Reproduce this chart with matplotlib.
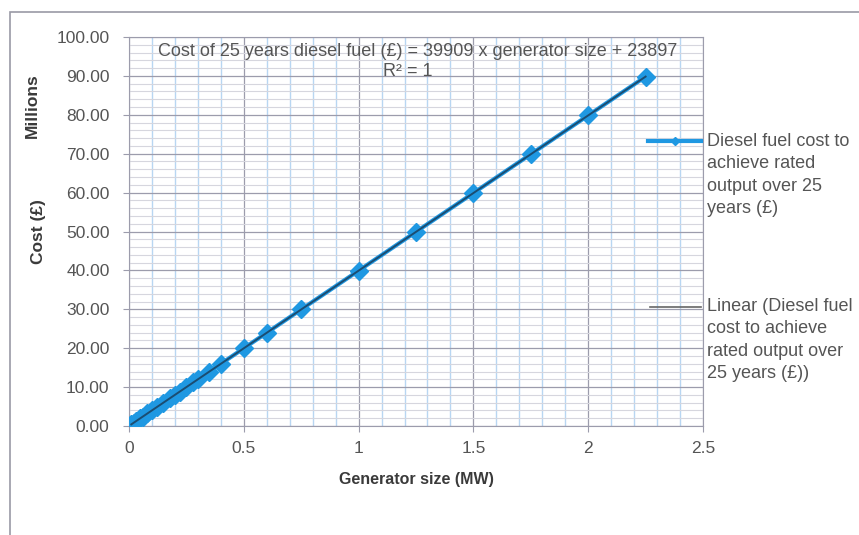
import matplotlib.pyplot as plt
from matplotlib.patches import Rectangle
from matplotlib.lines import Line2D

plt.rcParams['font.family'] = ['Liberation Sans', 'DejaVu Sans']

# Generator size (MW) and 25-year diesel fuel cost (millions of £)
generator_mw = [0.01, 0.02, 0.03, 0.05, 0.06, 0.08, 0.1, 0.12, 0.15, 0.18,
                0.2, 0.22, 0.25, 0.28, 0.3, 0.35, 0.4, 0.5, 0.6, 0.75,
                1.0, 1.25, 1.5, 1.75, 2.0, 2.25]
cost_millions = [0.42, 0.82, 1.22, 2.02, 2.42, 3.22, 4.01, 4.81, 6.01, 7.21,
                 8.01, 8.80, 10.00, 11.20, 11.99, 13.99, 15.99, 19.98, 23.97, 29.96,
                 39.93, 49.91, 59.89, 69.87, 79.84, 89.82]

y_ticks = [0, 10, 20, 30, 40, 50, 60, 70, 80, 90, 100]
x_ticks = [0, 0.5, 1, 1.5, 2, 2.5]
x_tick_labels = ['0', '0.5', '1', '1.5', '2', '2.5']

series_label = 'Diesel fuel cost to\nachieve rated\noutput over 25\nyears (£)'
trend_label = 'Linear (Diesel fuel\ncost to achieve\nrated output over\n25 years (£))'
equation = 'Cost of 25 years diesel fuel (£) = 39909 x generator size + 23897'

fig = plt.figure(figsize=(8.59, 5.35), dpi=100)
# outer chart frame
fig.patches.append(Rectangle((10 / 859, -0.05), 1.2, 1 - 12 / 535 + 0.05,
                             transform=fig.transFigure, fill=False,
                             edgecolor='#9a9aa6', linewidth=1.2))
ax = fig.add_axes([129 / 859, 1 - 426 / 535, 574 / 859, 389 / 535])

blue = '#1f98e2'
dark = '#1b4d72'
ax.plot(generator_mw, cost_millions, color=blue, linewidth=3, marker='D',
        markersize=9.5, zorder=3)
# linear trendline
ax.plot([generator_mw[0], generator_mw[-1]], [cost_millions[0], cost_millions[-1]],
        color=dark, linewidth=1.4, zorder=4)

ax.set_xlim(0, 2.5)
ax.set_ylim(0, 100)
ax.set_xticks(x_ticks)
ax.set_xticklabels(x_tick_labels)
ax.set_yticks(y_ticks)
ax.set_yticklabels([f'{v:.2f}' for v in y_ticks])
ax.set_xticks([i / 10 for i in range(26)], minor=True)
ax.set_yticks(list(range(0, 101, 2)), minor=True)
ax.grid(which='minor', axis='x', color='#b8d6f2', linewidth=1.0)
ax.grid(which='minor', axis='y', color='#d6d6de', linewidth=0.8)
ax.grid(which='major', color='#9c9cac', linewidth=0.9)
ax.set_axisbelow(True)
ax.tick_params(which='minor', length=0)
ax.tick_params(which='major', length=4, color='#9c9cac', labelsize=12.5,
               labelcolor='#555555')
ax.tick_params(axis='y', pad=10)
ax.tick_params(axis='x', pad=7)
for s in ax.spines.values():
    s.set_color('#9c9cac')

ax.set_xlabel('Generator size (MW)', fontsize=11.5, fontweight='bold',
              color='#3a3a3a', labelpad=11)
fig.text(32 / 859, 1 - 106 / 535, 'Millions', rotation=90, fontsize=12.5,
         fontweight='bold', color='#3a3a3a', ha='center', va='center')
fig.text(38 / 859, 1 - 232 / 535, 'Cost (£)', rotation=90, fontsize=12.5,
         fontweight='bold', color='#3a3a3a', ha='center', va='center')

ax.text(0.503, 0.962, equation, transform=ax.transAxes, ha='center', va='center',
        fontsize=13, color='#555555')
ax.text(0.528, 0.912, 'R² = 1', transform=ax.transAxes, ha='right', va='center',
        fontsize=13, color='#555555')

# legend drawn by hand at the right
fig.text(707 / 859, 1 - 175 / 535, series_label, fontsize=13, color='#555555',
         ha='left', va='center', linespacing=1.4)
fig.text(707 / 859, 1 - 340 / 535, trend_label, fontsize=13, color='#555555',
         ha='left', va='center', linespacing=1.4)
fig.lines.append(Line2D([648 / 859, 701 / 859], [1 - 141 / 535, 1 - 141 / 535],
                        transform=fig.transFigure, color=blue, linewidth=3))
fig.lines.append(Line2D([675 / 859], [1 - 141 / 535], transform=fig.transFigure,
                        color=blue, marker='D', markersize=4))
fig.lines.append(Line2D([650 / 859, 701 / 859], [1 - 307 / 535, 1 - 307 / 535],
                        transform=fig.transFigure, color='#666666', linewidth=1.2))

fig.savefig('out.png', dpi=100)
